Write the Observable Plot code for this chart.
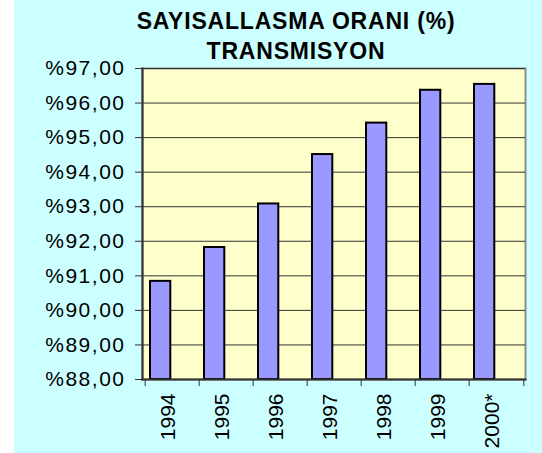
<!DOCTYPE html>
<html>
<head>
<meta charset="utf-8">
<script src="https://cdn.jsdelivr.net/npm/d3@7"></script>
<script src="https://cdn.jsdelivr.net/npm/@observablehq/plot@0.6"></script>
<style>
  html, body { margin: 0; padding: 0; background: #fff; }
  #chart {
    position: relative; width: 542px; height: 453px; overflow: hidden;
    background: linear-gradient(to right, #ffffff 0 14px, #ccffff 14px);
    font-family: "Liberation Sans", Arial, sans-serif;
  }
  #title {
    box-sizing: border-box; width: 542px; height: 60px;
    padding-left: 50px; padding-top: 5.7px;
    text-align: center; font-weight: 700; font-size: 23px; line-height: 30.8px;
    letter-spacing: 0.8px; color: #000;
  }
  #chart svg { display: block; }
  #chart g[aria-label="y-axis tick label"] text { letter-spacing: 1.5px; }
</style>
</head>
<body>
<div id="chart">
  <div id="title"></div>
</div>
<script>
const years = ["1994", "1995", "1996", "1997", "1998", "1999", "2000*"];
const values = [90.84, 91.82, 93.08, 94.51, 95.42, 96.37, 96.54];
const yTicks = [88, 89, 90, 91, 92, 93, 94, 95, 96, 97];
const titleLines = ["SAYISALLASMA ORANI (%)", "TRANSMISYON"];

const data = years.map((year, i) => ({year, value: values[i]}));

const title = document.getElementById("title");
title.innerHTML = titleLines.map(t => `<div>${t}</div>`).join("");

const W = 542, ML = 142, MR = 17;
const bw = (W - ML - MR) / years.length;

const chart = Plot.plot({
  width: W,
  height: 393,
  marginLeft: ML,
  marginRight: MR,
  marginTop: 8,
  marginBottom: 74,
  style: {background: "transparent", fontFamily: "'Liberation Sans', Arial, sans-serif", color: "#000", overflow: "visible"},
  x: {type: "band", domain: years, padding: 0, axis: null, label: null},
  y: {domain: [88, 97], axis: null, label: null},
  marks: [
    Plot.frame({fill: "#FFFFCC", stroke: "#8c8c8c", strokeWidth: 2}),
    Plot.gridY(yTicks, {stroke: "#333", strokeOpacity: 1, strokeWidth: 1}),
    Plot.barY(data, {x: "year", y1: 88, y2: "value", fill: "#9999FF", stroke: "#000", strokeWidth: 2, insetLeft: 5, insetRight: 28.7}),
    Plot.frame({anchor: "left", stroke: "#333", strokeWidth: 2}),
    Plot.frame({anchor: "bottom", stroke: "#333", strokeWidth: 2}),
    Plot.axisY({ticks: yTicks, tickSize: 7, tickPadding: 10, fontSize: 21, stroke: "#333", label: null,
      tickFormat: d => "%" + d.toFixed(2).replace(".", ",")}),
    Plot.axisX({ticks: years, tickSize: 7, dx: -bw / 2, tickFormat: () => "", stroke: "#333", label: null}),
    Plot.axisX({ticks: [years[years.length - 1]], tickSize: 7, dx: bw / 2, tickFormat: () => "", stroke: "#333", label: null}),
    Plot.axisX({ticks: years, tickSize: 0, tickPadding: 14, tickRotate: -90, fontSize: 21, dx: -4, label: null})
  ]
});
document.getElementById("chart").appendChild(chart);
</script>
</body>
</html>
